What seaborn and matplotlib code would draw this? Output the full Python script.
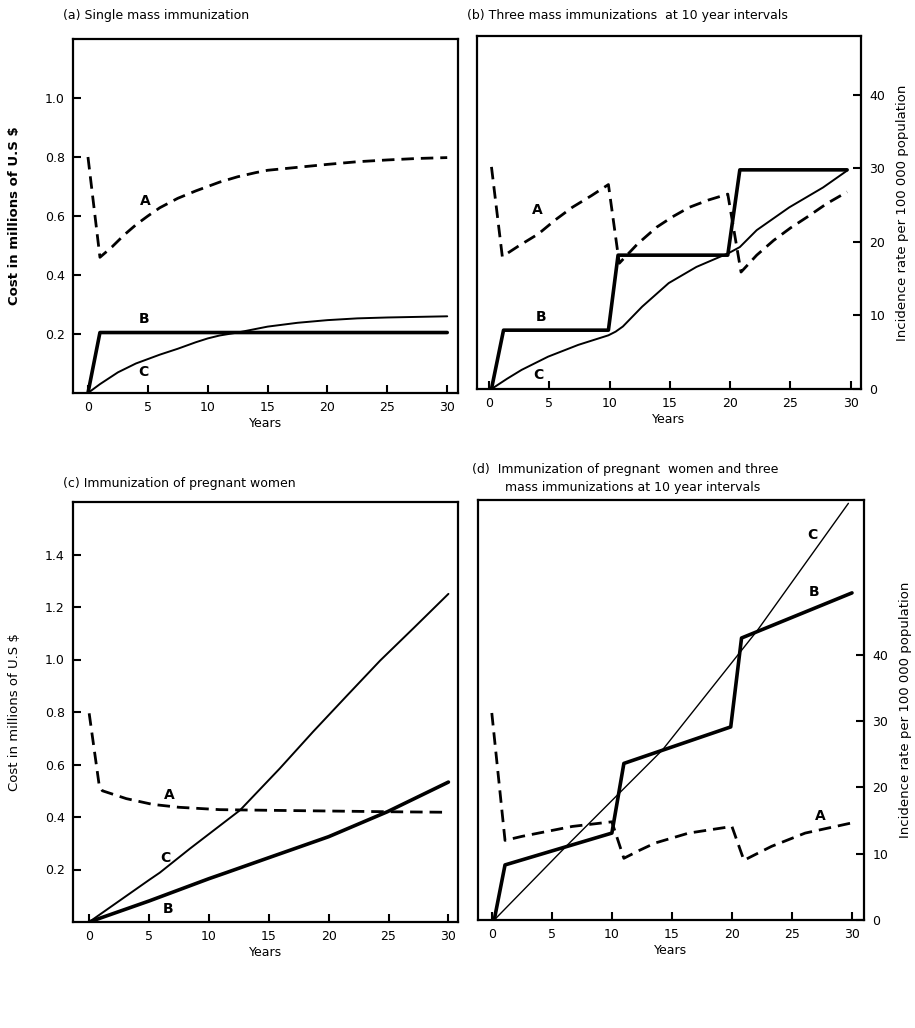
import seaborn as sns
import matplotlib.pyplot as plt

# (a) single mass immunization - read on the cost axis
a_years_A = [0, 1, 2, 3, 4, 5, 6, 7.5, 9, 10, 11, 12.5, 14, 15, 17.5, 20, 22.5, 25, 27.5, 30]
a_A = [0.80, 0.46, 0.495, 0.535, 0.57, 0.60, 0.628, 0.66, 0.685, 0.70, 0.715, 0.733, 0.747,
       0.755, 0.765, 0.775, 0.784, 0.79, 0.795, 0.798]
a_years_B = [0, 1, 30]
a_B = [0, 0.205, 0.205]
a_years_C = [0, 1, 2.5, 4, 5, 6, 7.5, 9, 10, 11, 12.5, 14, 15, 17.5, 20, 22.5, 25, 30]
a_C = [0, 0.03, 0.07, 0.1, 0.115, 0.13, 0.15, 0.172, 0.185, 0.195, 0.205, 0.217, 0.225,
       0.238, 0.247, 0.253, 0.256, 0.26]

# (b) three mass immunizations - read on the incidence axis
b_years_A = [0.2, 1.1, 2.5, 4.1, 5.5, 6.9, 8.5, 9.9, 10.8, 12.3, 13.9, 15.2, 16.6, 18.2, 19.8,
             20.9, 22.2, 23.6, 25.0, 26.4, 28.0, 29.7]
b_A = [30.2, 18.0, 19.5, 21.1, 23.0, 24.7, 26.3, 27.8, 17.1, 19.7, 22.0, 23.4, 24.7, 25.7, 26.5,
       15.9, 18.2, 20.2, 21.9, 23.4, 25.2, 26.8]
b_years_B = [0.2, 1.2, 9.9, 10.7, 19.8, 20.8, 29.7]
b_B = [0, 8.0, 8.0, 18.2, 18.2, 29.8, 29.8]
b_years_C = [0.2, 1.5, 2.7, 4.9, 7.4, 9.9, 10.5, 11.1, 12.7, 14.9, 17.2, 19.9, 20.8, 22.2,
             24.9, 27.7, 29.7]
b_C = [0, 1.4, 2.6, 4.4, 6.0, 7.3, 7.8, 8.5, 11.2, 14.4, 16.6, 18.5, 19.3, 21.6, 24.7, 27.4, 29.7]

# (c) immunization of pregnant women - read on the cost axis
c_years_A = [0, 0.84, 1.1, 3.1, 5.3, 7.5, 10.9, 15.9, 21.5, 25, 30]
c_A = [0.795, 0.52, 0.50, 0.47, 0.448, 0.437, 0.428, 0.425, 0.422, 0.42, 0.418]
c_years_B = [0, 5, 10, 11.45, 15, 20, 24.9, 30]
c_B = [0, 0.08, 0.165, 0.188, 0.245, 0.325, 0.42, 0.533]
c_years_C = [0, 2.5, 5, 5.9, 8.4, 12.6, 15.9, 18.7, 21.5, 24.3, 27.1, 30]
c_C = [0, 0.08, 0.16, 0.188, 0.279, 0.426, 0.584, 0.725, 0.861, 0.996, 1.12, 1.25]

# (d) pregnant women + three mass immunizations - read on the incidence axis
d_years_A = [0, 1.1, 2.5, 3.9, 6.7, 10, 11, 12.3, 13.6, 16.4, 20, 21, 22.2, 23.3, 26.1, 29.9]
d_A = [31.2, 12.0, 12.6, 13.1, 14.1, 14.8, 9.3, 10.5, 11.6, 13.1, 14.1, 9.0, 10.1, 11.1, 13.1, 14.6]
d_years_B = [0.2, 1.1, 10, 11, 19.9, 20.8, 30]
d_B = [0, 8.3, 13.1, 23.6, 29.1, 42.5, 49.3]
d_years_C = [0.2, 6.3, 14.2, 22.1, 29.7]
d_C = [0, 11.3, 25.6, 43.6, 62.8]

year_ticks = [0, 5, 10, 15, 20, 25, 30]
cost_label = r'Cost in millions of U.S \$'
incidence_label = 'Incidence rate per 100 000 population'


def draw_lines(ax, A, B, C, thin=1.4):
    sns.lineplot(x=A[0], y=A[1], ax=ax, color='black', lw=2.0, linestyle=(0, (4.5, 2.5)), sort=False)
    sns.lineplot(x=B[0], y=B[1], ax=ax, color='black', lw=2.6, sort=False)
    sns.lineplot(x=C[0], y=C[1], ax=ax, color='black', lw=thin, sort=False)


def style_axes(ax, xlim, ylim):
    ax.set_xlim(*xlim)
    ax.set_ylim(*ylim)
    ax.set_xticks(year_ticks)
    ax.set_xlabel('Years', fontsize=9, labelpad=2)
    ax.tick_params(direction='in', length=6, width=1.5, labelsize=9, pad=6,
                   bottom=True, left=True, top=False, right=False)
    for spine in ax.spines.values():
        spine.set_visible(True)
        spine.set_linewidth(1.6)
        spine.set_color('black')


def label(ax, x, y, s):
    ax.text(x, y, s, fontsize=10, fontweight='bold', ha='center', va='center')


def right_axis(ax):
    ax.yaxis.tick_right()
    ax.yaxis.set_label_position('right')
    ax.set_yticks([0, 10, 20, 30, 40])
    ax.tick_params(axis='y', left=False, right=True)
    ax.set_ylabel(incidence_label, fontsize=9.5, labelpad=8)


if __name__ == "__main__":
    sns.set_theme(style="white")
    plt.rcParams['font.family'] = ['DejaVu Sans']
    for key in ['text.color', 'axes.labelcolor', 'xtick.color', 'ytick.color']:
        plt.rcParams[key] = 'black'

    fig = plt.figure(figsize=(9.15, 10.28), dpi=100)
    W, H = 915, 1028

    def box(left, top, right, bottom):
        return fig.add_axes([left / W, 1 - bottom / H, (right - left) / W, (bottom - top) / H])

    ax_a = box(73, 39, 458, 393)
    ax_b = box(477, 36, 861, 389)
    ax_c = box(73, 502, 458, 922)
    ax_d = box(478, 500, 864, 920)

    # (a)
    draw_lines(ax_a, (a_years_A, a_A), (a_years_B, a_B), (a_years_C, a_C))
    style_axes(ax_a, (-1.25, 30.9), (0, 1.2))
    ax_a.set_yticks([0.2, 0.4, 0.6, 0.8, 1.0])
    ax_a.set_ylabel(cost_label, fontsize=9.5, fontweight='bold')
    ax_a.yaxis.set_label_coords(-0.135, 0.5)
    label(ax_a, 4.8, 0.65, 'A')
    label(ax_a, 4.7, 0.25, 'B')
    label(ax_a, 4.6, 0.07, 'C')

    # (b)
    draw_lines(ax_b, (b_years_A, b_A), (b_years_B, b_B), (b_years_C, b_C))
    style_axes(ax_b, (-1.0, 30.85), (0, 48))
    right_axis(ax_b)
    label(ax_b, 4.0, 24.3, 'A')
    label(ax_b, 4.3, 9.8, 'B')
    label(ax_b, 4.1, 1.9, 'C')

    # (c)
    draw_lines(ax_c, (c_years_A, c_A), (c_years_B, c_B), (c_years_C, c_C))
    style_axes(ax_c, (-1.35, 30.8), (0, 1.6))
    ax_c.set_yticks([0.2, 0.4, 0.6, 0.8, 1.0, 1.2, 1.4])
    ax_c.set_ylabel(cost_label, fontsize=9.5)
    ax_c.yaxis.set_label_coords(-0.135, 0.5)
    label(ax_c, 6.7, 0.485, 'A')
    label(ax_c, 6.4, 0.245, 'C')
    label(ax_c, 6.6, 0.05, 'B')

    # (d)
    draw_lines(ax_d, (d_years_A, d_A), (d_years_B, d_B), (d_years_C, d_C), thin=1.0)
    style_axes(ax_d, (-1.15, 31.0), (0, 63.3))
    right_axis(ax_d)
    label(ax_d, 26.7, 58.0, 'C')
    label(ax_d, 26.8, 49.5, 'B')
    label(ax_d, 27.4, 15.6, 'A')

    # panel titles
    fig.text(63 / W, 1 - 15 / H, '(a) Single mass immunization', fontsize=9, va='center')
    fig.text(467 / W, 1 - 15 / H, '(b) Three mass immunizations  at 10 year intervals',
             fontsize=9, va='center')
    fig.text(63 / W, 1 - 483 / H, '(c) Immunization of pregnant women', fontsize=9, va='center')
    fig.text(472 / W, 1 - 470 / H, '(d)  Immunization of pregnant  women and three',
             fontsize=9, va='center')
    fig.text(505 / W, 1 - 488 / H, 'mass immunizations at 10 year intervals',
             fontsize=9, va='center')

    fig.savefig('out.png', dpi=100)
